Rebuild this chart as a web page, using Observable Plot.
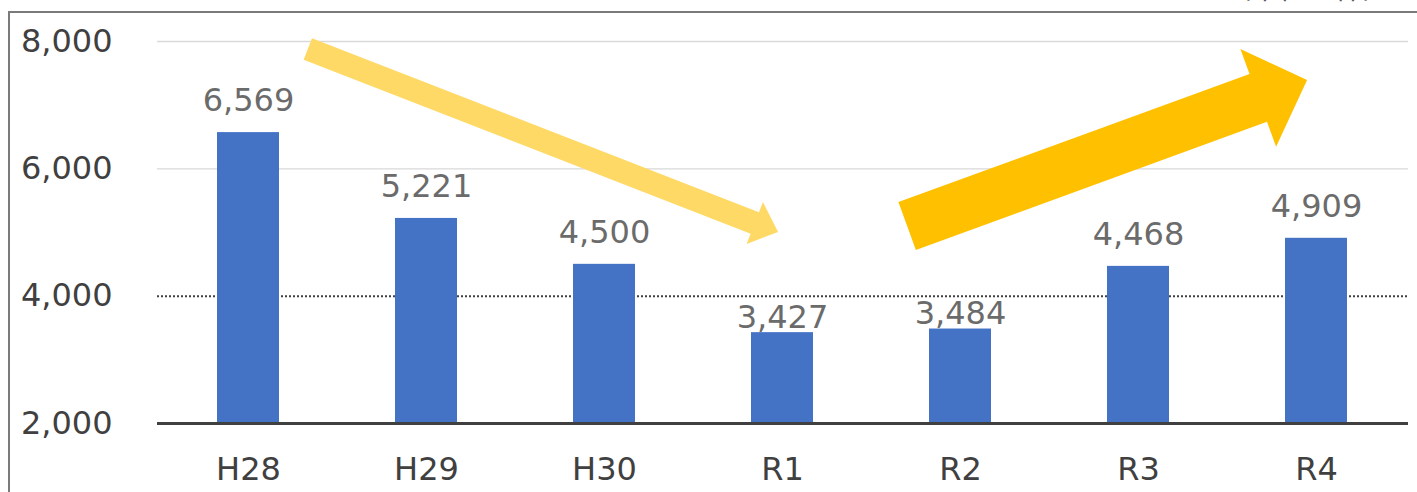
<!DOCTYPE html>
<html>
<head>
<meta charset="utf-8">
<script src="https://cdn.jsdelivr.net/npm/d3@7"></script>
<script src="https://cdn.jsdelivr.net/npm/@observablehq/plot@0.6"></script>
<style>
  html, body { margin: 0; padding: 0; background: #fff; }
  #wrap { position: relative; width: 1417px; height: 492px; overflow: hidden; }
  #frame { position: absolute; left: 8px; top: 11px; right: -4px; bottom: -4px;
           border-left: 2px solid #7a7a7a; border-top: 2px solid #7a7a7a; }
  #unit { position: absolute; right: 26px; top: -27px; font: 28px "Noto Sans CJK JP", sans-serif;
          color: #595959; line-height: 28px; white-space: nowrap; }
  #chart { position: absolute; left: 0; top: 0; }
</style>
</head>
<body>
<div id="wrap">
  <div id="unit">（単位：件）</div>
  <div id="frame"></div>
  <div id="chart"></div>
</div>
<script>
// Fiscal years and yearly counts
const years = ["H28", "H29", "H30", "R1", "R2", "R3", "R4"];
const counts = [6569, 5221, 4500, 3427, 3484, 4468, 4909];
const yTicks = [2000, 4000, 6000, 8000];
const referenceLevel = 4000;
// Labels that sit just above short bars, below the dotted reference line
const tuckedLabels = ["R1", "R2"];

// Trend arrows: [category, fraction-of-step offset, value] for tail and tip
const arrowTails = [["H28", 0.336, 7874], ["R2", -0.297, 5094]];
const arrowTips = [["R1", -0.022, 5000], ["R4", -0.05, 7387]];

const data = years.map((year, i) => ({year, count: counts[i]}));
const fmt = d3.format(",");

const plot = Plot.plot({
  width: 1417,
  height: 492,
  marginLeft: 157,
  marginRight: 9,
  marginTop: 41,
  marginBottom: 69,
  style: {fontFamily: "'DejaVu Sans', Verdana, sans-serif", fontSize: "32px", color: "#404040", background: "transparent"},
  x: {domain: years, paddingInner: 0.65, paddingOuter: 0.325, label: null, tickSize: 0, tickPadding: 34},
  y: {domain: [2000, 8000], ticks: yTicks, tickFormat: fmt, label: null, tickSize: 0, tickPadding: 45},
  marks: [
    Plot.ruleY(yTicks.filter(t => t > referenceLevel), {stroke: "#d9d9d9", strokeWidth: 1.3}),
    Plot.ruleY([referenceLevel], {stroke: "#404040", strokeWidth: 2, strokeDasharray: "2,2"}),
    Plot.barY(data, {x: "year", y1: 2000, y2: "count", fill: "#4472C4"}),
    Plot.ruleY([2000], {stroke: "#404040", strokeWidth: 3}),
    Plot.text(data.filter(d => !tuckedLabels.includes(d.year)),
      {x: "year", y: "count", text: d => fmt(d.count), dy: -32, fill: "#6b6b6b", fontSize: 32}),
    Plot.text(data.filter(d => tuckedLabels.includes(d.year)),
      {x: "year", y: "count", text: d => fmt(d.count), dy: -15, fill: "#6b6b6b", fontSize: 32})
  ]
});
document.getElementById("chart").appendChild(plot);

// Block arrows placed through the chart's own x and y scales
const xs = plot.scale("x"), ys = plot.scale("y");
const px = ([cat, off, v]) => [xs.apply(cat) + xs.bandwidth / 2 + off * xs.step, ys.apply(v)];
const arrowStyles = [
  {fill: "#FFD966", shaft: 11.5, headLen: 25, head: 22.5},
  {fill: "#FFC000", shaft: 25.5, headLen: 52, head: 52}
];
const svg = d3.select(plot);
arrowTails.forEach((tail, i) => {
  const [tx, ty] = px(tail), [hx, hy] = px(arrowTips[i]);
  const s = arrowStyles[i];
  const len = Math.hypot(hx - tx, hy - ty);
  const ux = (hx - tx) / len, uy = (hy - ty) / len;
  const nx = -uy, ny = ux;
  const bx = hx - ux * s.headLen, by = hy - uy * s.headLen;
  const pts = [
    [tx + nx * s.shaft, ty + ny * s.shaft],
    [bx + nx * s.shaft, by + ny * s.shaft],
    [bx + nx * s.head, by + ny * s.head],
    [hx, hy],
    [bx - nx * s.head, by - ny * s.head],
    [bx - nx * s.shaft, by - ny * s.shaft],
    [tx - nx * s.shaft, ty - ny * s.shaft]
  ];
  svg.append("polygon").attr("points", pts.map(p => p.join(",")).join(" ")).attr("fill", s.fill);
});
</script>
</body>
</html>
